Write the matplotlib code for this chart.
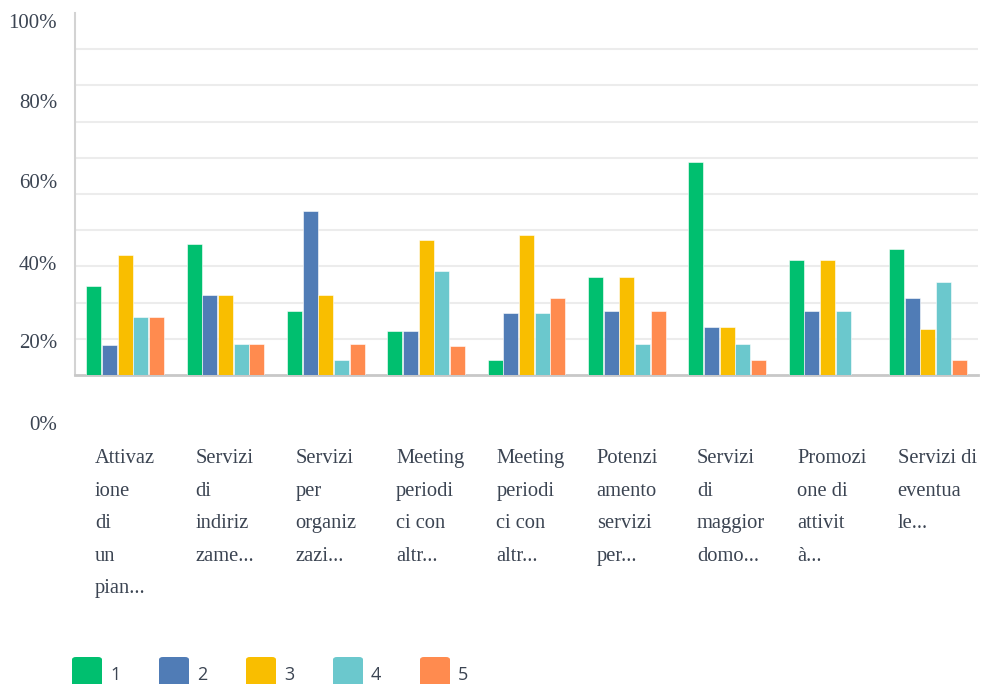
import matplotlib
matplotlib.use("Agg")
import matplotlib.pyplot as plt
from matplotlib.patches import FancyBboxPatch
import numpy as np

categories = [
    "Attivaz\nione\ndi\nun\npian...",
    "Servizi\ndi\nindiriz\nzame...",
    "Servizi\nper\norganiz\nzazi...",
    "Meeting\nperiodi\nci con\naltr...",
    "Meeting\nperiodi\nci con\naltr...",
    "Potenzi\namento\nservizi\nper...",
    "Servizi\ndi\nmaggior\ndomo...",
    "Promozi\none di\nattivit\nà...",
    "Servizi di\neventua\nle...",
]
series_names = ["1", "2", "3", "4", "5"]
s1 = [24.7, 36.2, 17.8, 12.2, 4.1, 27.1, 58.9, 31.8, 34.9]
s2 = [8.4, 22.2, 45.4, 12.2, 17.2, 17.8, 13.3, 17.8, 21.3]
s3 = [33.1, 22.2, 22.2, 37.4, 38.7, 27.1, 13.2, 31.8, 12.8]
s4 = [16.1, 8.6, 4.2, 28.7, 17.1, 8.6, 8.6, 17.7, 25.8]
s5 = [16.1, 8.6, 8.6, 8.1, 21.2, 17.7, 4.2, 0.0, 4.2]
ytick_labels = ["100%", "80%", "60%", "40%", "20%", "0%"]

series = [s1, s2, s3, s4, s5]
colors = ["#00BF6F", "#507CB6", "#F9BE00", "#6BC8CD", "#FF8B4F"]
text_color = "#3b4452"

W, H = 982, 684
fig = plt.figure(figsize=(W / 100, H / 100), dpi=100)
ax_left, ax_right, ax_top, ax_bot = 75, 978, 13, 375
ax = fig.add_axes([ax_left / W, 1 - ax_bot / H, (ax_right - ax_left) / W, (ax_bot - ax_top) / H])

n = len(categories)
x = np.arange(n) + 0.5
bw = 0.150
pitch = 0.156
for i, (vals, c) in enumerate(zip(series, colors)):
    ax.bar(x + (i - 2) * pitch, vals, width=bw, color=c, edgecolor="white",
           linewidth=0.4, zorder=3)

ax.set_xlim(0, n)
ax.set_ylim(0, 100)
ax.set_yticks(np.arange(10, 100, 10))
ax.yaxis.grid(True, color="#ECECEC", linewidth=1.5, zorder=0)
ax.tick_params(axis="both", length=0, labelleft=False, labelbottom=False)
ax.set_xticks([])
for s in ["top", "right"]:
    ax.spines[s].set_visible(False)
ax.spines["left"].set_color("#D3D3D3")
ax.spines["left"].set_linewidth(1.5)
ax.spines["bottom"].set_color("#C8C8C8")
ax.spines["bottom"].set_linewidth(2)

serif = ["Liberation Serif", "DejaVu Serif"]

# y labels (placed as in reference)
ylab_px = [24, 104, 184, 265, 344, 425]
for lab, yp in zip(ytick_labels, ylab_px):
    fig.text(57 / W, 1 - yp / H, lab, ha="right", va="center", fontsize=15,
             family=serif, color=text_color)

# category labels
slot_px = (ax_right - ax_left) / n
for j, lab in enumerate(categories):
    xp = ax_left + j * slot_px + 20
    fig.text(xp / W, 1 - 449 / H, lab, ha="left", va="top", fontsize=14.8,
             family=serif, color=text_color, linespacing=1.97)

# legend
for i, (name, c) in enumerate(zip(series_names, colors)):
    xp = 72 + i * 87
    p = FancyBboxPatch((xp / W, 1 - 690 / H), 30 / W, 33 / H,
                       boxstyle="round,pad=0,rounding_size=0.004",
                       transform=fig.transFigure, facecolor=c, edgecolor="none",
                       clip_on=False)
    fig.patches.append(p)
    fig.text((xp + 38) / W, 1 - 675 / H, name, ha="left", va="center",
             fontsize=13, family=["Open Sans", "DejaVu Sans"], color=text_color)

fig.savefig("out.png", dpi=100)
